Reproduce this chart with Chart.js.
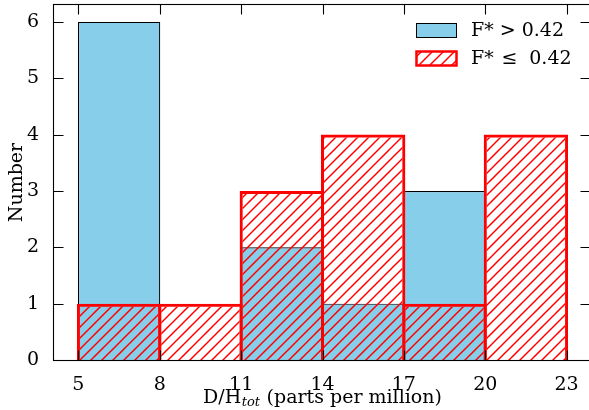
<!DOCTYPE html>
<html><head><meta charset="utf-8">
<script src="https://cdn.jsdelivr.net/npm/chart.js@4"></script>
<style>html,body{margin:0;padding:0;background:#fff;overflow:hidden;width:589px;height:410px}#c{display:block}</style>
</head><body>
<canvas id="c" width="591" height="410"></canvas>
<script>
// ---- data ----
const binCenters = [6.5, 9.5, 12.5, 15.5, 18.5, 21.5];
const highF = [6, null, 2, 1, 3, null];   // F* > 0.42
const lowF  = [1, 1, 3, 4, 1, 4];         // F* <= 0.42
const xTicks = [5, 8, 11, 14, 17, 20, 23];
const yTicks = [0, 1, 2, 3, 4, 5, 6];
const seriesLabels = ['F* > 0.42', 'F* \u200A\u2264 \u2009\u200A0.42'];
const xTitleParts = ['D/H', 'tot', ' (parts per million)'];
const yTitle = 'Number';

const FONT = '"DejaVu Serif", "Liberation Serif", serif';
const FS = 19;
const BLUE = '#87CEEB';
const RED = '#FF0000';

function makeHatch() {
  const s = 11, t = 22;
  const c = document.createElement('canvas');
  c.width = t; c.height = t;
  const g = c.getContext('2d');
  g.strokeStyle = RED; g.lineWidth = 1.5;
  for (let k = -1; k <= 5; k++) {
    const d = k * s;
    g.beginPath();
    g.moveTo(d + 10, -10);
    g.lineTo(-10, d + 10);
    g.stroke();
  }
  return document.getElementById('c').getContext('2d').createPattern(c, 'repeat');
}
const hatch = makeHatch();

const overlay = {
  id: 'overlay',
  afterDraw(chart) {
    const ctx = chart.ctx, a = chart.chartArea;
    const xs = chart.scales.x, ys = chart.scales.y;
    ctx.save();
    ctx.strokeStyle = '#000'; ctx.lineWidth = 1.1;
    const L = Math.round(a.left) - 0.5, R = Math.round(a.right) - 0.5;
    const T = Math.round(a.top) - 0.5, B = Math.round(a.bottom) + 0.5;
    ctx.strokeRect(L, T, R - L, B - T);
    const TL = 10;
    ctx.beginPath();
    xTicks.forEach(v => {
      const px = Math.round(xs.getPixelForValue(v)) + 0.5;
      ctx.moveTo(px, B); ctx.lineTo(px, B - TL);
      ctx.moveTo(px, T); ctx.lineTo(px, T + TL);
    });
    yTicks.forEach(v => {
      const py = Math.round(ys.getPixelForValue(v)) + 0.5;
      ctx.moveTo(L, py); ctx.lineTo(L + TL, py);
      ctx.moveTo(R, py); ctx.lineTo(R - TL, py);
    });
    ctx.stroke();

    // x title
    ctx.fillStyle = '#000';
    ctx.textBaseline = 'alphabetic';
    ctx.font = FS + 'px ' + FONT;
    const w0 = ctx.measureText(xTitleParts[0]).width;
    const w2 = ctx.measureText(xTitleParts[2]).width;
    ctx.font = 'italic ' + Math.round(FS * 0.7) + 'px ' + FONT;
    const w1 = ctx.measureText(xTitleParts[1]).width;
    const total = w0 + w1 + w2 + 1;
    let x0 = (a.left + a.right) / 2 - total / 2;
    const base = 403;
    ctx.font = FS + 'px ' + FONT;
    ctx.fillText(xTitleParts[0], x0, base);
    ctx.font = 'italic ' + Math.round(FS * 0.7) + 'px ' + FONT;
    ctx.fillText(xTitleParts[1], x0 + w0 + 0.5, base + 3);
    ctx.font = FS + 'px ' + FONT;
    ctx.fillText(xTitleParts[2], x0 + w0 + w1 + 1, base);

    // y title
    ctx.save();
    ctx.translate(17, (a.top + a.bottom) / 2);
    ctx.rotate(-Math.PI / 2);
    ctx.textAlign = 'center'; ctx.textBaseline = 'middle';
    ctx.fillText(yTitle, 0, 0);
    ctx.restore();

    // legend
    const lx = 416, lw = 40, lh = 14;
    const rows = [23, 51];
    ctx.fillStyle = BLUE;
    ctx.fillRect(lx, rows[0], lw, lh);
    ctx.strokeStyle = '#000'; ctx.lineWidth = 1;
    ctx.strokeRect(lx + 0.5, rows[0] + 0.5, lw, lh);
    ctx.fillStyle = hatch;
    ctx.fillRect(lx, rows[1], lw, lh);
    ctx.strokeStyle = RED; ctx.lineWidth = 2.5;
    ctx.strokeRect(lx + 0.5, rows[1] + 0.5, lw, lh);
    ctx.fillStyle = '#000';
    ctx.textBaseline = 'middle'; ctx.textAlign = 'left';
    ctx.font = FS + 'px ' + FONT;
    ctx.fillText(seriesLabels[0], 471, rows[0] + lh / 2 + 1);
    ctx.fillText(seriesLabels[1], 471, rows[1] + lh / 2 + 1);
    ctx.restore();
  }
};

Chart.defaults.font.family = FONT;
Chart.defaults.font.size = FS;
Chart.defaults.color = '#000';

function noPad(s) { s.paddingTop = 0; s.paddingBottom = 0; s.paddingLeft = 0; s.paddingRight = 0; }

new Chart(document.getElementById('c'), {
  type: 'bar',
  data: {
    datasets: [
      {
        label: seriesLabels[1],
        data: lowF.map((y, i) => ({ x: binCenters[i], y })),
        backgroundColor: hatch,
        borderColor: RED,
        borderWidth: 3,
        barPercentage: 1.037,
        categoryPercentage: 1,
        grouped: false,
        order: 0
      },
      {
        label: seriesLabels[0],
        data: highF.map((y, i) => ({ x: binCenters[i], y })),
        backgroundColor: BLUE,
        borderColor: '#000',
        borderWidth: 1.2,
        barPercentage: 1.012,
        categoryPercentage: 1,
        grouped: false,
        order: 1
      }
    ]
  },
  options: {
    responsive: false,
    animation: false,
    devicePixelRatio: 1,
    layout: { padding: { top: 5, right: 0, bottom: 0, left: 0 } },
    plugins: { legend: { display: false }, tooltip: { enabled: false } },
    scales: {
      x: {
        type: 'linear', min: 4.1, max: 23.9, offset: false,
        grid: { display: false }, border: { display: false },
        ticks: { padding: 6, maxRotation: 0, autoSkip: false, font: { size: FS } },
        afterBuildTicks: s => { s.ticks = xTicks.map(v => ({ value: v })); },
        afterFit: s => { s.height = 50; noPad(s); }
      },
      y: {
        min: 0, max: 6.3,
        grid: { display: false }, border: { display: false },
        ticks: { padding: 7, font: { size: FS } },
        afterBuildTicks: s => { s.ticks = yTicks.map(v => ({ value: v })); },
        afterFit: s => { s.width = 54; noPad(s); }
      }
    }
  },
  plugins: [overlay]
});
</script>
</body></html>
